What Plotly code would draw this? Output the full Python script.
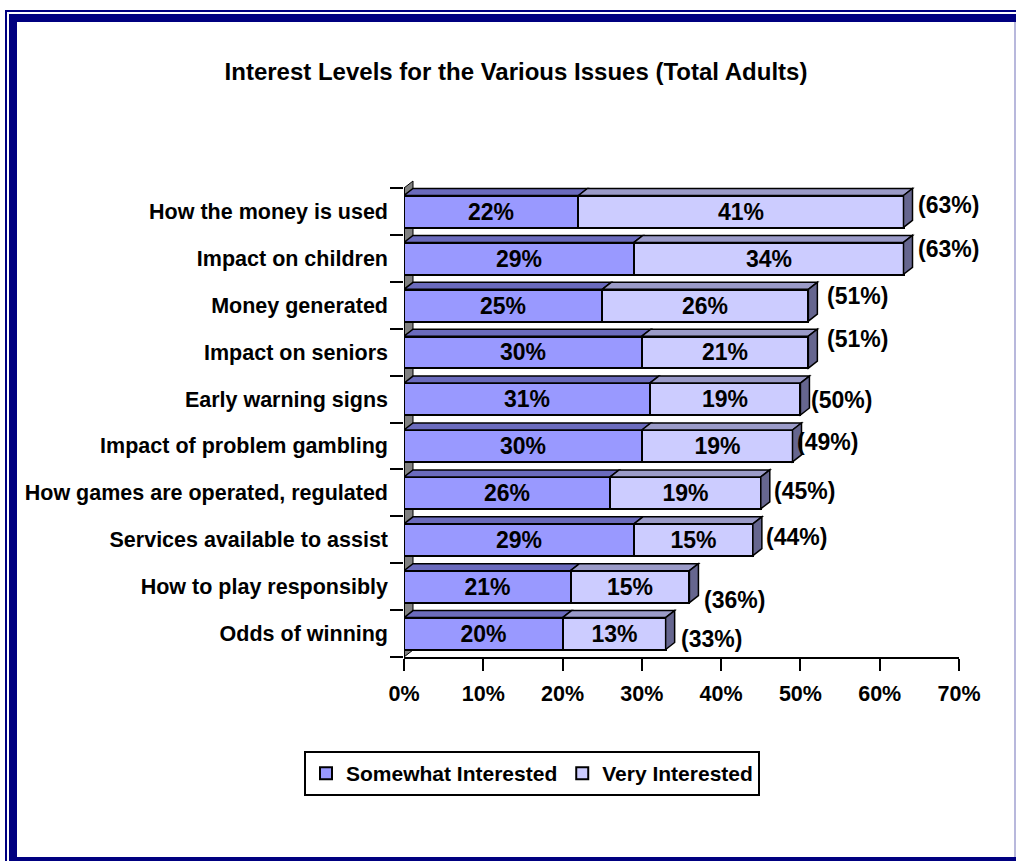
import plotly.graph_objects as go

# ---- data -------------------------------------------------------------
categories = [
    "How the money is used",
    "Impact on children",
    "Money generated",
    "Impact on seniors",
    "Early warning signs",
    "Impact of problem gambling",
    "How games are operated, regulated",
    "Services available to assist",
    "How to play responsibly",
    "Odds of winning",
]
somewhat = [22, 29, 25, 30, 31, 30, 26, 29, 21, 20]
very = [41, 34, 26, 21, 19, 19, 19, 15, 15, 13]
totals = [63, 63, 51, 51, 50, 49, 45, 44, 36, 33]
x_ticks = [0, 10, 20, 30, 40, 50, 60, 70]

# ---- geometry / style ---------------------------------------------------
W, H = 1016, 861
FONT = "Liberation Sans, Arial, sans-serif"
C_SOME, C_SOME_TOP = "#9999ff", "#6b6bbd"
C_VERY, C_VERY_TOP, C_VERY_SIDE = "#ccccff", "#9b9bc8", "#66668f"
NAVY = "#000080"

X0_PX, X70_PX = 404, 959          # axis extent in pixels
Y_TOP_PX, Y_BOT_PX = 188, 657     # first/last category boundary
Y_MAX = 70
Y_LOW, Y_HIGH = -0.7, 9.5         # reversed category range (top, bottom)
px_per_unit_x = (X70_PX - X0_PX) / Y_MAX
px_per_cat = (Y_BOT_PX - Y_TOP_PX) / 10
DX = 9 / px_per_unit_x            # depth offset (x, data units)
DY = 7 / px_per_cat               # depth offset (y, category units)
BAR_W = 0.68

# offsets of the total labels, pixels (x right, y up)
label_xshift = [12, 12, 17, 17, 9, 2, 11, 11, 13, 13]
label_yshift = [6, 9, 9, 13, -1, 4, 2, 3, -13, -5]


def px(x):
    return x / W


def py(y):
    return 1 - y / H


plot_top_px = Y_TOP_PX - (-0.5 - Y_LOW) * px_per_cat
pos = list(range(len(categories)))

fig = go.Figure()
fig.add_trace(go.Bar(
    y=pos, x=somewhat, orientation="h", name="Somewhat Interested",
    width=BAR_W, marker=dict(color=C_SOME, line=dict(color="black", width=2)),
    text=[f"{v}%" for v in somewhat], textposition="inside",
    insidetextanchor="middle", constraintext="none",
    textfont=dict(family=FONT, size=23, color="black", weight="bold"),
))
fig.add_trace(go.Bar(
    y=pos, x=very, orientation="h", name="Very Interested",
    width=BAR_W, marker=dict(color=C_VERY, line=dict(color="black", width=2)),
    text=[f"{v}%" for v in very], textposition="inside",
    insidetextanchor="middle", constraintext="none",
    textfont=dict(family=FONT, size=23, color="black", weight="bold"),
))

shapes = []


def poly(pts, color, layer="above", lw=1.5):
    d = "M " + " L ".join(f"{a},{b}" for a, b in pts) + " Z"
    return dict(type="path", path=d, xref="x", yref="y", fillcolor=color,
                line=dict(color="black", width=lw), layer=layer)


# left wall of the 3-D box
shapes.append(dict(
    type="path",
    path=f"M 0,{Y_HIGH} L {DX},{Y_HIGH - DY} L {DX},{-0.5 - DY} L 0,-0.5 Z",
    xref="x", yref="y", fillcolor="#808080", line=dict(color="black", width=1),
    layer="below"))

for i in pos:
    yt = i - BAR_W / 2
    yb = i + BAR_W / 2
    s, t = somewhat[i], somewhat[i] + very[i]
    shapes.append(poly([(0, yt), (DX, yt - DY), (s + DX, yt - DY), (s, yt)], C_SOME_TOP))
    shapes.append(poly([(s, yt), (s + DX, yt - DY), (t + DX, yt - DY), (t, yt)], C_VERY_TOP))
    shapes.append(poly([(t, yt), (t + DX, yt - DY), (t + DX, yb - DY), (t, yb)], C_VERY_SIDE))

# vertical axis line
shapes.append(dict(type="line", xref="x", yref="y", x0=0, x1=0, y0=-0.5, y1=Y_HIGH,
                   line=dict(color="black", width=2), layer="above"))

# double navy frame
shapes += [
    dict(type="rect", xref="paper", yref="paper", x0=px(5), x1=px(7), y0=py(H), y1=py(10),
         fillcolor=NAVY, line=dict(width=0)),
    dict(type="rect", xref="paper", yref="paper", x0=px(5), x1=px(W), y0=py(12), y1=py(10),
         fillcolor=NAVY, line=dict(width=0)),
    dict(type="rect", xref="paper", yref="paper", x0=px(9), x1=px(17), y0=py(H), y1=py(14),
         fillcolor=NAVY, line=dict(width=0)),
    dict(type="rect", xref="paper", yref="paper", x0=px(9), x1=px(W), y0=py(22), y1=py(14),
         fillcolor=NAVY, line=dict(width=0)),
    dict(type="rect", xref="paper", yref="paper", x0=px(9), x1=px(W), y0=py(H), y1=py(857),
         fillcolor=NAVY, line=dict(width=0)),
    dict(type="rect", xref="paper", yref="paper", x0=px(1014), x1=px(1016), y0=py(857), y1=py(22),
         fillcolor="#b8b8dc", line=dict(width=0)),
]

annotations = []
for i in pos:
    annotations.append(dict(
        x=totals[i], y=i, xref="x", yref="y", text=f"({totals[i]}%)",
        showarrow=False, xanchor="left", yanchor="middle",
        xshift=label_xshift[i], yshift=label_yshift[i],
        font=dict(family=FONT, size=23, color="black", weight="bold")))

fig.update_layout(
    width=W, height=H,
    margin=dict(l=0, r=0, t=0, b=0, autoexpand=False),
    paper_bgcolor="white", plot_bgcolor="rgba(0,0,0,0)",
    barmode="stack", bargap=0,
    title=dict(text="Interest Levels for the Various Issues (Total Adults)",
               x=px(516), y=py(72), xanchor="center", yanchor="middle",
               xref="paper", yref="paper",
               font=dict(family=FONT, size=24, color="black", weight="bold")),
    xaxis=dict(domain=[px(X0_PX), px(X70_PX)], range=[0, Y_MAX], automargin=False,
               tickvals=x_ticks, ticktext=[f"{v}%" for v in x_ticks],
               ticks="outside", ticklen=12, tickwidth=2, tickcolor="black",
               showline=True, linecolor="black", linewidth=2,
               showgrid=False, zeroline=False, ticklabelstandoff=4,
               tickfont=dict(family=FONT, size=21.5, color="black", weight="bold")),
    yaxis=dict(domain=[py(Y_BOT_PX), py(plot_top_px)], range=[Y_HIGH, Y_LOW],
               automargin=False,
               tickvals=pos, ticktext=categories, ticks="", showline=False,
               showgrid=False, zeroline=False, ticklabelstandoff=15,
               tickfont=dict(family=FONT, size=21.5, color="black", weight="bold")),
    yaxis2=dict(overlaying="y", anchor="x", side="left", range=[Y_HIGH, Y_LOW],
                automargin=False,
                tickvals=[k - 0.5 for k in range(11)], showticklabels=False,
                ticks="outside", ticklen=13, tickwidth=2, tickcolor="black",
                showline=False, showgrid=False, zeroline=False),
    legend=dict(orientation="h", x=px(304), y=py(751), xanchor="left", yanchor="top",
                bordercolor="black", borderwidth=2, bgcolor="white", itemwidth=30,
                font=dict(family=FONT, size=21, color="black", weight="bold"),
                traceorder="normal"),
    shapes=shapes, annotations=annotations,
    showlegend=True,
)

# invisible trace to activate the tick-mark axis
fig.add_trace(go.Scatter(x=[0], y=[0], yaxis="y2", mode="markers",
                         marker=dict(opacity=0), showlegend=False, hoverinfo="skip"))

fig.write_html("out.html")
